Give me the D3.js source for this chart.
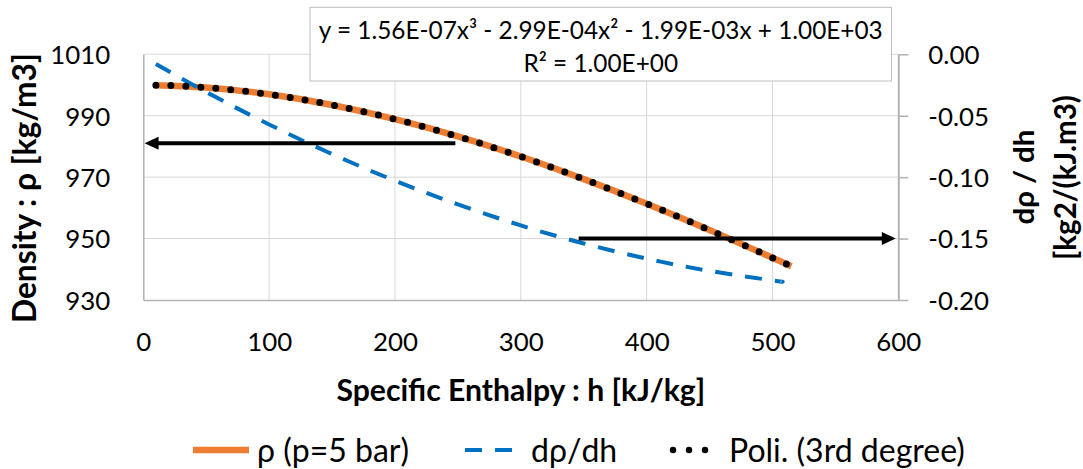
<!DOCTYPE html>
<html>
<head>
<meta charset="utf-8">
<script src="https://cdn.jsdelivr.net/npm/d3@7"></script>
<style>
  html, body { margin: 0; padding: 0; background: #fff; }
  svg { display: block; font-family: Lato, "Open Sans", sans-serif; }
</style>
</head>
<body>
<svg id="chart" width="1083" height="469"></svg>
<script>
// Density of water at p = 5 bar against specific enthalpy h [kJ/kg]
const enthalpy = [10, 50, 100, 150, 200, 250, 300, 350, 400, 450, 500, 515];
const density = [999.95, 999.17, 996.97, 993.50, 988.89, 983.25, 976.71, 969.36, 961.35, 952.77, 943.76, 940.98];

// Slope dρ/dh against specific enthalpy (secondary axis)
const slopeEnthalpy = [10, 50, 100, 150, 200, 250, 300, 350, 400, 450, 500, 507];
const slope = [-0.0079, -0.0307, -0.0571, -0.0812, -0.1029, -0.1222, -0.1393, -0.1540, -0.1663, -0.1763, -0.1840, -0.1849];

// Third-degree trendline as printed in its label: x³, x², x, constant
const trendCoef = [1.56e-7, -2.99e-4, -1.99e-3, 1.00e3];
const trendRange = [10, 515];
const trendLabel = ["y = 1.56E-07x³ - 2.99E-04x² - 1.99E-03x + 1.00E+03", "R² = 1.00E+00"];

// Axis ticks
const xTicks = [0, 100, 200, 300, 400, 500, 600];
const leftTicks = [930, 950, 970, 990, 1010];
const rightTicks = [-0.20, -0.15, -0.10, -0.05, 0.00];

const seriesNames = ["ρ (p=5 bar)", "dρ/dh", "Poli. (3rd degree)"];
const axisTitles = ["Specific Enthalpy : h [kJ/kg]", "Density : ρ [kg/m3]", "dρ / dh", "[kg2/(kJ.m3)"];

// Pointer arrows: [h from, h to, value on its axis]
const leftArrow = [248, 1, 981];
const rightArrow = [346, 598, -0.15];

// ---------------------------------------------------------------
const COLORS = { rho: "#ED7D31", slope: "#0070C0", trend: "#000000",
                 grid: "#d9d9d9", axis: "#b3b3b3", text: "#000000" };
const plot = { left: 143.3, right: 898.3, top: 54.3, bottom: 300 };

const svg = d3.select("#chart");

const x = d3.scaleLinear().domain([0, 600]).range([plot.left, plot.right]);
const yL = d3.scaleLinear().domain([930, 1010]).range([plot.bottom, plot.top]);
const yR = d3.scaleLinear().domain([-0.20, 0]).range([plot.bottom, plot.top]);

// Scale a text's font size so that it spans the given width
function fitWidth(sel, width) {
  const node = sel.node();
  const fs = parseFloat(sel.attr("font-size"));
  const w = node.getComputedTextLength();
  const size = fs * width / w;
  sel.attr("font-size", size);
  return size;
}

// Gridlines
const grid = svg.append("g").attr("stroke", COLORS.grid).attr("stroke-width", 1);
grid.selectAll("line.v").data(xTicks.filter(t => t > 0 && t < 600)).join("line")
  .attr("x1", d => x(d)).attr("x2", d => x(d))
  .attr("y1", plot.top).attr("y2", plot.bottom);
grid.selectAll("line.h").data(leftTicks.filter(t => t > 930)).join("line")
  .attr("x1", plot.left).attr("x2", plot.right)
  .attr("y1", d => yL(d)).attr("y2", d => yL(d));

// Tick font size measured on the widest left label
const probe = svg.append("text").attr("font-size", 26).text("1010");
const tickSize = fitWidth(probe, 60);
probe.remove();

// Bottom axis
const gx = svg.append("g").attr("transform", `translate(0,${plot.bottom})`)
  .call(d3.axisBottom(x).tickValues(xTicks).tickSize(0).tickPadding(0).tickFormat(d3.format("d")));
gx.select(".domain").attr("stroke", COLORS.axis).attr("stroke-width", 1.5);
gx.selectAll("text").attr("font-size", tickSize).attr("fill", COLORS.text)
  .attr("font-family", "Lato, 'Open Sans', sans-serif")
  .attr("y", 41.7).attr("dy", "0.36em");

// Left axis
const gl = svg.append("g").attr("transform", `translate(${plot.left},0)`)
  .call(d3.axisLeft(yL).tickValues(leftTicks).tickSize(0).tickPadding(33).tickFormat(d3.format("d")));
gl.select(".domain").attr("stroke", COLORS.axis).attr("stroke-width", 1.5);
gl.selectAll("text").attr("font-size", tickSize).attr("fill", COLORS.text)
  .attr("font-family", "Lato, 'Open Sans', sans-serif").attr("dy", "0.36em");

// Right axis
const gr = svg.append("g").attr("transform", `translate(${plot.right},0)`)
  .call(d3.axisRight(yR).tickValues(rightTicks).tickSizeInner(10).tickSizeOuter(0)
    .tickPadding(20).tickFormat(d => d.toFixed(2)));
gr.select(".domain").attr("stroke", COLORS.axis).attr("stroke-width", 2);
gr.selectAll(".tick line").attr("stroke", COLORS.axis).attr("stroke-width", 1.5);
gr.selectAll("text").attr("font-size", tickSize).attr("fill", COLORS.text)
  .attr("font-family", "Lato, 'Open Sans', sans-serif").attr("dy", "0.36em");

// Density series
const rhoLine = d3.line().x((d, i) => x(enthalpy[i])).y(d => yL(d)).curve(d3.curveNatural);
svg.append("path").datum(density)
  .attr("d", rhoLine).attr("fill", "none")
  .attr("stroke", COLORS.rho).attr("stroke-width", 6.5);

// Slope series (secondary axis)
const slopeLine = d3.line().x((d, i) => x(slopeEnthalpy[i])).y(d => yR(d)).curve(d3.curveNatural);
svg.append("path").datum(slope)
  .attr("d", slopeLine).attr("fill", "none")
  .attr("stroke", COLORS.slope).attr("stroke-width", 4)
  .attr("stroke-dasharray", "17 13");

// Trendline from the printed coefficients
const poly = h => trendCoef.reduce((acc, c) => acc * h + c, 0);
const trendH = d3.range(trendRange[0], trendRange[1] + 0.001, 5);
svg.append("path").datum(trendH)
  .attr("d", d3.line().x(h => x(h)).y(h => yL(poly(h))).curve(d3.curveNatural))
  .attr("fill", "none").attr("stroke", COLORS.trend)
  .attr("stroke-width", 7).attr("stroke-linecap", "round")
  .attr("stroke-dasharray", "0 15");

// Pointer arrows
function arrow(x1, x2, yy) {
  const dir = Math.sign(x2 - x1);
  const head = 14, half = 6.5;
  svg.append("line")
    .attr("x1", x1).attr("x2", x2 - dir * (head - 1))
    .attr("y1", yy).attr("y2", yy)
    .attr("stroke", "#000").attr("stroke-width", 4);
  svg.append("path")
    .attr("d", `M${x2},${yy} L${x2 - dir * head},${yy - half} L${x2 - dir * head},${yy + half} Z`)
    .attr("fill", "#000");
}
arrow(x(leftArrow[0]), x(leftArrow[1]), yL(leftArrow[2]));
arrow(x(rightArrow[0]), x(rightArrow[1]), yR(rightArrow[2]));

// Trendline label box
const box = { x: 310, y: 7.3, w: 581.5, h: 73.7 };
svg.append("rect").attr("x", box.x).attr("y", box.y).attr("width", box.w).attr("height", box.h)
  .attr("fill", "#fff").attr("stroke", "#bfbfbf").attr("stroke-width", 1);
const eq1 = svg.append("text").attr("x", box.x + box.w / 2).attr("y", 30).attr("dy", "0.36em")
  .attr("text-anchor", "middle").attr("font-size", 22).attr("fill", COLORS.text).text(trendLabel[0]);
const eqSize = fitWidth(eq1, 564);
svg.append("text").attr("x", box.x + box.w / 2).attr("y", 63.3).attr("dy", "0.36em")
  .attr("text-anchor", "middle").attr("font-size", eqSize).attr("fill", COLORS.text).text(trendLabel[1]);

// Axis titles
const xt = svg.append("text").attr("x", (plot.left + plot.right) / 2).attr("y", 390).attr("dy", "0.36em")
  .attr("text-anchor", "middle").attr("font-weight", "bold").attr("font-size", 24).text(axisTitles[0]);
fitWidth(xt, 369);

function vTitle(cx, cy, txt, len) {
  const t = svg.append("text").attr("transform", `translate(${cx},${cy}) rotate(-90)`)
    .attr("dy", "0.36em").attr("text-anchor", "middle")
    .attr("font-weight", "bold").attr("font-size", 24).text(txt);
  fitWidth(t, len);
}
vTitle(25, 188, axisTitles[1], 270);
vTitle(1023, 177, axisTitles[2], 95);
vTitle(1065, 177.5, axisTitles[3], 165);

// Legend
const legY = 450;
const leg = svg.append("g");
leg.append("line").attr("x1", 193).attr("x2", 249).attr("y1", legY).attr("y2", legY)
  .attr("stroke", COLORS.rho).attr("stroke-width", 6.5);
leg.append("line").attr("x1", 465).attr("x2", 516).attr("y1", legY).attr("y2", legY)
  .attr("stroke", COLORS.slope).attr("stroke-width", 4).attr("stroke-dasharray", "17 13");
leg.append("line").attr("x1", 673).attr("x2", 721).attr("y1", legY).attr("y2", legY)
  .attr("stroke", COLORS.trend).attr("stroke-width", 6.5).attr("stroke-linecap", "round")
  .attr("stroke-dasharray", "0 16");
const legX = [257, 531, 729];
const legTexts = leg.selectAll("text.lg").data(seriesNames).join("text")
  .attr("x", (d, i) => legX[i]).attr("y", legY).attr("dy", "0.36em")
  .attr("font-size", 22).attr("fill", COLORS.text).text(d => d);
const legSize = fitWidth(d3.select(legTexts.nodes()[2]), 236);
legTexts.attr("font-size", legSize);
</script>
</body>
</html>
